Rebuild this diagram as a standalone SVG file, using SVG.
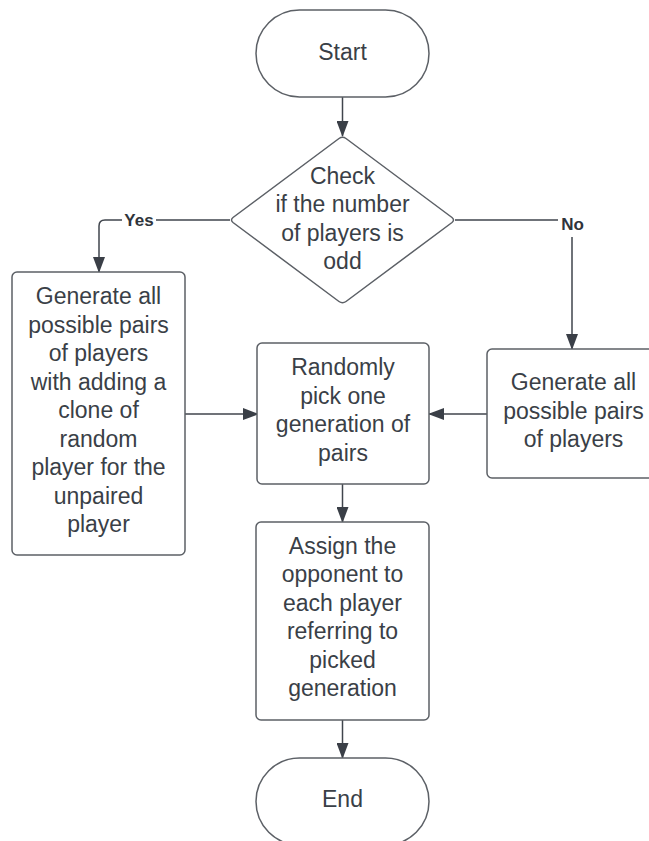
<svg xmlns="http://www.w3.org/2000/svg" width="649" height="841" viewBox="0 0 649 841">
<style>
.shape{fill:#ffffff;stroke:#5c6066;stroke-width:1.5}
.t{font-family:"Liberation Sans",Arial,sans-serif;font-size:23px;fill:#3a3f47;text-anchor:middle}
.lbl{font-family:"Liberation Sans",Arial,sans-serif;font-size:17px;font-weight:bold;fill:#2f343b;text-anchor:middle}
.conn{fill:none;stroke:#40454d;stroke-width:1.5}
</style>
<defs>
<marker id="arr" viewBox="0 0 16 12" refX="15" refY="6" markerWidth="16" markerHeight="12" markerUnits="userSpaceOnUse" orient="auto">
<path d="M0,0 L16,6 L0,12 Z" fill="#3a3f47"/>
</marker>
</defs>
<rect width="649" height="841" fill="#ffffff"/>
<g id="connectors">
<path class="conn" d="M342.5,97 V136" marker-end="url(#arr)"/>
<path class="conn" d="M230,220 H105 Q99,220 99,226 V272" marker-end="url(#arr)"/>
<path class="conn" d="M455,220 H572 V349" marker-end="url(#arr)"/>
<path class="conn" d="M185,414 H258" marker-end="url(#arr)"/>
<path class="conn" d="M487,414 H429" marker-end="url(#arr)"/>
<path class="conn" d="M342.5,484 V522" marker-end="url(#arr)"/>
<path class="conn" d="M342.5,720 V758" marker-end="url(#arr)"/>
<rect x="122" y="210" width="34" height="20" fill="#ffffff"/>
<text class="lbl" x="139" y="226">Yes</text>
<rect x="558" y="212" width="29" height="25" fill="#ffffff"/>
<text class="lbl" x="572.5" y="230">No</text>
</g>
<g id="start">
<rect class="shape" x="256" y="10" width="173" height="87" rx="43.5"/>
<text class="t" x="342.5" y="59.5">Start</text>
</g>
<g id="check">
<path class="shape" d="M339,138.5 Q342.5,136 346,138.5 L452,217.5 Q455,220 452,222.5 L346,301.5 Q342.5,304 339,301.5 L233,222.5 Q230,220 233,217.5 Z"/>
<text class="t" x="342.5" y="183.5">Check</text>
<text class="t" x="342.5" y="212">if the number</text>
<text class="t" x="342.5" y="240.5">of players is</text>
<text class="t" x="342.5" y="269">odd</text>
</g>
<g id="gen-odd">
<rect class="shape" x="12" y="272" width="173" height="283" rx="5"/>
<text class="t" x="98.5" y="304">Generate all</text>
<text class="t" x="98.5" y="332.5">possible pairs</text>
<text class="t" x="98.5" y="361">of players</text>
<text class="t" x="98.5" y="389.5">with adding a</text>
<text class="t" x="98.5" y="418">clone of</text>
<text class="t" x="98.5" y="446.5">random</text>
<text class="t" x="98.5" y="475">player for the</text>
<text class="t" x="98.5" y="503.5">unpaired</text>
<text class="t" x="98.5" y="532">player</text>
</g>
<g id="pick">
<rect class="shape" x="257" y="343" width="172" height="141" rx="5"/>
<text class="t" x="343" y="375">Randomly</text>
<text class="t" x="343" y="403.5">pick one</text>
<text class="t" x="343" y="432">generation of</text>
<text class="t" x="343" y="460.5">pairs</text>
</g>
<g id="gen-even">
<rect class="shape" x="487" y="349" width="173" height="129" rx="5"/>
<text class="t" x="573.5" y="390">Generate all</text>
<text class="t" x="573.5" y="418.5">possible pairs</text>
<text class="t" x="573.5" y="447">of players</text>
</g>
<g id="assign">
<rect class="shape" x="256" y="522" width="173" height="198" rx="5"/>
<text class="t" x="342.5" y="553.5">Assign the</text>
<text class="t" x="342.5" y="582">opponent to</text>
<text class="t" x="342.5" y="610.5">each player</text>
<text class="t" x="342.5" y="639">referring to</text>
<text class="t" x="342.5" y="667.5">picked</text>
<text class="t" x="342.5" y="696">generation</text>
</g>
<g id="end">
<rect class="shape" x="256" y="758" width="173" height="87" rx="43.5"/>
<text class="t" x="342.5" y="806.5">End</text>
</g>
</svg>
